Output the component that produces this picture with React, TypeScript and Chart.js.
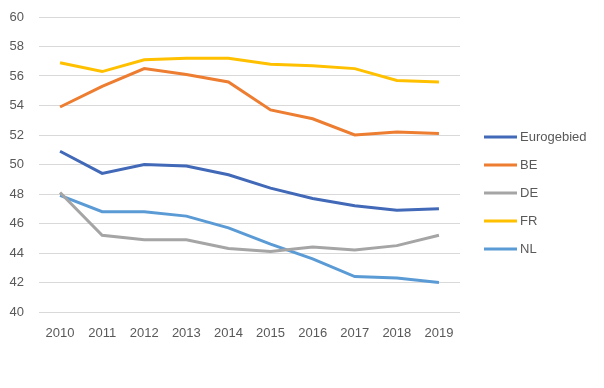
import React, { useEffect, useRef } from "react";
import { Chart, registerables } from "chart.js";

Chart.register(...registerables);

const years = ["2010", "2011", "2012", "2013", "2014", "2015", "2016", "2017", "2018", "2019"];
const eurogebied = [50.9, 49.4, 50.0, 49.9, 49.3, 48.4, 47.7, 47.2, 46.9, 47.0];
const be = [53.9, 55.3, 56.5, 56.1, 55.6, 53.7, 53.1, 52.0, 52.2, 52.1];
const de = [48.1, 45.2, 44.9, 44.9, 44.3, 44.1, 44.4, 44.2, 44.5, 45.2];
const fr = [56.9, 56.3, 57.1, 57.2, 57.2, 56.8, 56.7, 56.5, 55.7, 55.6];
const nl = [47.9, 46.8, 46.8, 46.5, 45.7, 44.6, 43.6, 42.4, 42.3, 42.0];

const seriesNames = ["Eurogebied", "BE", "DE", "FR", "NL"];
const seriesData = [eurogebied, be, de, fr, nl];
const seriesColors = ["#4169B8", "#ED7D31", "#A5A5A5", "#FFC000", "#5B9BD5"];

const FONT_FAMILY = "'Liberation Sans', Arial, sans-serif";

const sideLegend = {
  id: "sideLegend",
  afterDraw(chart: any) {
    const ctx = chart.ctx;
    const area = chart.chartArea;
    const x0 = area.right + 24;
    const lineLen = 33;
    const step = 28;
    const n = chart.data.datasets.length;
    const midY = 193;
    const startY = midY - ((n - 1) * step) / 2;
    ctx.save();
    ctx.font = `13px ${FONT_FAMILY}`;
    ctx.textBaseline = "middle";
    ctx.textAlign = "left";
    chart.data.datasets.forEach((ds: any, i: number) => {
      const y = startY + i * step;
      ctx.strokeStyle = ds.borderColor;
      ctx.lineWidth = 3;
      ctx.beginPath();
      ctx.moveTo(x0, y);
      ctx.lineTo(x0 + lineLen, y);
      ctx.stroke();
      ctx.fillStyle = "#595959";
      ctx.fillText(ds.label, x0 + lineLen + 3, y);
    });
    ctx.restore();
  },
};

export default function App() {
  const ref = useRef<HTMLCanvasElement | null>(null);
  useEffect(() => {
    if (!ref.current) return;
    const font = { family: FONT_FAMILY, size: 13 };
    const chart = new Chart(ref.current, {
      type: "line",
      data: {
        labels: years,
        datasets: seriesNames.map((name, i) => ({
          label: name,
          data: seriesData[i],
          borderColor: seriesColors[i],
          backgroundColor: seriesColors[i],
          borderWidth: 3,
          pointRadius: 0,
          tension: 0,
          fill: false,
        })),
      },
      plugins: [sideLegend],
      options: {
        animation: false,
        responsive: true,
        maintainAspectRatio: false,
        layout: { padding: { left: 0, right: 144, top: 17, bottom: 0 } },
        plugins: {
          tooltip: { enabled: false },
          legend: { display: false },
        },
        scales: {
          x: {
            offset: true,
            grid: { display: false },
            border: { display: false },
            ticks: { color: "#595959", font, padding: 6 },
            afterFit: (scale: any) => {
              scale.height = 76;
            },
          },
          y: {
            min: 40,
            max: 60,
            ticks: { stepSize: 2, color: "#595959", font, padding: 15 },
            grid: { color: "#D9D9D9", drawTicks: false, lineWidth: 1 },
            border: { display: false },
            afterFit: (scale: any) => {
              scale.width = 39;
              scale.paddingTop = 8;
              scale.paddingBottom = 8;
            },
          },
        },
      },
    });
    return () => chart.destroy();
  }, []);
  return (
    <div style={{ position: "fixed", left: 0, top: 0, width: 604, height: 388, background: "#fff" }}>
      <canvas ref={ref} />
    </div>
  );
}
